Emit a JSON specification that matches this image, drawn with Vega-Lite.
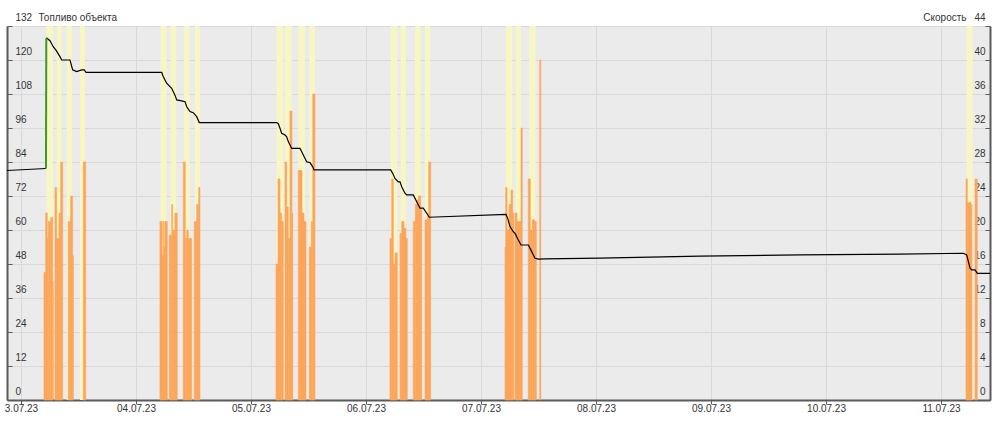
{
  "$schema": "https://vega.github.io/schema/vega-lite/v6.json",
  "width": 983,
  "height": 374,
  "autosize": {"type": "none"},
  "padding": {"left": 7, "top": 26, "right": 6, "bottom": 39},
  "background": "#ffffff",
  "config": {
    "view": {"fill": "#ebebeb", "stroke": null},
    "font": "Liberation Sans",
    "axis": {
      "labelFont": "Liberation Sans", "labelFontSize": 10, "labelColor": "#333333",
      "titleFont": "Liberation Sans", "titleFontSize": 10, "titleFontWeight": "normal", "titleColor": "#333333",
      "gridColor": "#d9d9d9", "gridWidth": 1, "domainColor": "#5a5a5a", "tickColor": "#5a5a5a", "domainWidth": 2
    }
  },
  "datasets": {
    "refuel": [
      {"t": "2023-07-03T05:13Z", "v": 81.7},
      {"t": "2023-07-03T05:17Z", "v": 127.8}
    ],
    "fuel": [
      {"t": "2023-07-02T21:05Z", "v": 81.0, "part": "a"},
      {"t": "2023-07-03T05:13Z", "v": 81.7, "part": "a"},
      {"t": "2023-07-03T05:17Z", "v": 127.8, "part": "b"},
      {"t": "2023-07-03T05:26Z", "v": 127.7, "part": "b"},
      {"t": "2023-07-03T06:03Z", "v": 126.8, "part": "b"},
      {"t": "2023-07-03T06:44Z", "v": 124.7, "part": "b"},
      {"t": "2023-07-03T07:18Z", "v": 123.5, "part": "b"},
      {"t": "2023-07-03T08:08Z", "v": 121.2, "part": "b"},
      {"t": "2023-07-03T08:30Z", "v": 120.0, "part": "b"},
      {"t": "2023-07-03T10:14Z", "v": 120.0, "part": "b"},
      {"t": "2023-07-03T10:47Z", "v": 116.5, "part": "b"},
      {"t": "2023-07-03T11:37Z", "v": 115.9, "part": "b"},
      {"t": "2023-07-03T12:40Z", "v": 116.5, "part": "b"},
      {"t": "2023-07-03T13:13Z", "v": 116.5, "part": "b"},
      {"t": "2023-07-03T13:34Z", "v": 115.6, "part": "b"},
      {"t": "2023-07-04T05:22Z", "v": 115.6, "part": "b"},
      {"t": "2023-07-04T05:42Z", "v": 114.1, "part": "b"},
      {"t": "2023-07-04T06:24Z", "v": 111.8, "part": "b"},
      {"t": "2023-07-04T07:06Z", "v": 110.6, "part": "b"},
      {"t": "2023-07-04T07:27Z", "v": 110.0, "part": "b"},
      {"t": "2023-07-04T08:08Z", "v": 107.6, "part": "b"},
      {"t": "2023-07-04T08:30Z", "v": 105.9, "part": "b"},
      {"t": "2023-07-04T09:32Z", "v": 105.6, "part": "b"},
      {"t": "2023-07-04T10:14Z", "v": 105.3, "part": "b"},
      {"t": "2023-07-04T10:35Z", "v": 103.5, "part": "b"},
      {"t": "2023-07-04T11:16Z", "v": 101.8, "part": "b"},
      {"t": "2023-07-04T11:57Z", "v": 101.4, "part": "b"},
      {"t": "2023-07-04T12:40Z", "v": 100.0, "part": "b"},
      {"t": "2023-07-04T13:13Z", "v": 97.9, "part": "b"},
      {"t": "2023-07-05T05:22Z", "v": 97.9, "part": "b"},
      {"t": "2023-07-05T05:42Z", "v": 97.5, "part": "b"},
      {"t": "2023-07-05T06:03Z", "v": 95.9, "part": "b"},
      {"t": "2023-07-05T06:24Z", "v": 94.1, "part": "b"},
      {"t": "2023-07-05T07:06Z", "v": 93.5, "part": "b"},
      {"t": "2023-07-05T07:27Z", "v": 92.9, "part": "b"},
      {"t": "2023-07-05T07:47Z", "v": 91.2, "part": "b"},
      {"t": "2023-07-05T08:30Z", "v": 88.8, "part": "b"},
      {"t": "2023-07-05T10:14Z", "v": 88.8, "part": "b"},
      {"t": "2023-07-05T10:35Z", "v": 87.6, "part": "b"},
      {"t": "2023-07-05T10:55Z", "v": 86.5, "part": "b"},
      {"t": "2023-07-05T11:37Z", "v": 84.1, "part": "b"},
      {"t": "2023-07-05T12:19Z", "v": 83.8, "part": "b"},
      {"t": "2023-07-05T12:53Z", "v": 82.3, "part": "b"},
      {"t": "2023-07-05T13:09Z", "v": 81.2, "part": "b"},
      {"t": "2023-07-06T05:09Z", "v": 81.2, "part": "b"},
      {"t": "2023-07-06T05:34Z", "v": 80.0, "part": "b"},
      {"t": "2023-07-06T06:03Z", "v": 78.2, "part": "b"},
      {"t": "2023-07-06T06:44Z", "v": 77.0, "part": "b"},
      {"t": "2023-07-06T07:06Z", "v": 77.0, "part": "b"},
      {"t": "2023-07-06T07:27Z", "v": 75.3, "part": "b"},
      {"t": "2023-07-06T08:08Z", "v": 73.0, "part": "b"},
      {"t": "2023-07-06T08:30Z", "v": 72.4, "part": "b"},
      {"t": "2023-07-06T09:52Z", "v": 72.4, "part": "b"},
      {"t": "2023-07-06T10:35Z", "v": 70.0, "part": "b"},
      {"t": "2023-07-06T11:16Z", "v": 67.7, "part": "b"},
      {"t": "2023-07-06T11:57Z", "v": 67.7, "part": "b"},
      {"t": "2023-07-06T12:40Z", "v": 65.9, "part": "b"},
      {"t": "2023-07-06T13:13Z", "v": 64.5, "part": "b"},
      {"t": "2023-07-07T05:13Z", "v": 65.5, "part": "b"},
      {"t": "2023-07-07T05:34Z", "v": 64.1, "part": "b"},
      {"t": "2023-07-07T06:03Z", "v": 61.2, "part": "b"},
      {"t": "2023-07-07T06:44Z", "v": 59.4, "part": "b"},
      {"t": "2023-07-07T07:06Z", "v": 58.8, "part": "b"},
      {"t": "2023-07-07T07:47Z", "v": 56.5, "part": "b"},
      {"t": "2023-07-07T08:21Z", "v": 54.7, "part": "b"},
      {"t": "2023-07-07T09:52Z", "v": 54.7, "part": "b"},
      {"t": "2023-07-07T10:26Z", "v": 52.9, "part": "b"},
      {"t": "2023-07-07T10:55Z", "v": 51.2, "part": "b"},
      {"t": "2023-07-07T11:16Z", "v": 50.0, "part": "b"},
      {"t": "2023-07-07T11:58Z", "v": 49.7, "part": "b"},
      {"t": "2023-07-07T13:21Z", "v": 49.8, "part": "b"},
      {"t": "2023-07-08T00:50Z", "v": 50.1, "part": "b"},
      {"t": "2023-07-08T21:42Z", "v": 50.8, "part": "b"},
      {"t": "2023-07-09T18:34Z", "v": 51.2, "part": "b"},
      {"t": "2023-07-10T15:27Z", "v": 51.5, "part": "b"},
      {"t": "2023-07-11T04:39Z", "v": 51.8, "part": "b"},
      {"t": "2023-07-11T05:22Z", "v": 51.2, "part": "b"},
      {"t": "2023-07-11T05:42Z", "v": 48.8, "part": "b"},
      {"t": "2023-07-11T06:03Z", "v": 46.5, "part": "b"},
      {"t": "2023-07-11T06:24Z", "v": 45.9, "part": "b"},
      {"t": "2023-07-11T07:06Z", "v": 45.9, "part": "b"},
      {"t": "2023-07-11T07:34Z", "v": 44.7, "part": "b"},
      {"t": "2023-07-11T10:13Z", "v": 44.7, "part": "b"}
    ],
    "moving": [
      {"t": "2023-07-03T05:19Z", "e": "2023-07-03T06:41Z"},
      {"t": "2023-07-03T07:27Z", "e": "2023-07-03T08:30Z"},
      {"t": "2023-07-03T09:32Z", "e": "2023-07-03T10:39Z"},
      {"t": "2023-07-03T12:19Z", "e": "2023-07-03T13:21Z"},
      {"t": "2023-07-04T05:07Z", "e": "2023-07-04T06:24Z"},
      {"t": "2023-07-04T07:12Z", "e": "2023-07-04T08:25Z"},
      {"t": "2023-07-04T10:01Z", "e": "2023-07-04T11:12Z"},
      {"t": "2023-07-04T12:19Z", "e": "2023-07-04T13:21Z"},
      {"t": "2023-07-05T05:22Z", "e": "2023-07-05T06:44Z"},
      {"t": "2023-07-05T07:06Z", "e": "2023-07-05T08:30Z"},
      {"t": "2023-07-05T09:52Z", "e": "2023-07-05T11:16Z"},
      {"t": "2023-07-05T12:10Z", "e": "2023-07-05T13:21Z"},
      {"t": "2023-07-06T05:09Z", "e": "2023-07-06T06:32Z"},
      {"t": "2023-07-06T07:14Z", "e": "2023-07-06T08:21Z"},
      {"t": "2023-07-06T10:13Z", "e": "2023-07-06T11:25Z"},
      {"t": "2023-07-06T12:19Z", "e": "2023-07-06T13:21Z"},
      {"t": "2023-07-07T05:09Z", "e": "2023-07-07T06:32Z"},
      {"t": "2023-07-07T07:14Z", "e": "2023-07-07T08:21Z"},
      {"t": "2023-07-07T10:05Z", "e": "2023-07-07T11:25Z"},
      {"t": "2023-07-11T05:22Z", "e": "2023-07-11T06:37Z"}
    ],
    "speed": [
      {"t": "2023-07-03T04:48Z", "e": "2023-07-03T05:09Z", "s": 15},
      {"t": "2023-07-03T05:09Z", "e": "2023-07-03T05:29Z", "s": 22},
      {"t": "2023-07-03T05:29Z", "e": "2023-07-03T05:42Z", "s": 19},
      {"t": "2023-07-03T05:42Z", "e": "2023-07-03T06:12Z", "s": 21},
      {"t": "2023-07-03T06:12Z", "e": "2023-07-03T06:37Z", "s": 21.5},
      {"t": "2023-07-03T06:37Z", "e": "2023-07-03T06:44Z", "s": 14},
      {"t": "2023-07-03T07:06Z", "e": "2023-07-03T07:27Z", "s": 25},
      {"t": "2023-07-03T07:27Z", "e": "2023-07-03T07:56Z", "s": 19},
      {"t": "2023-07-03T07:56Z", "e": "2023-07-03T08:17Z", "s": 22},
      {"t": "2023-07-03T08:17Z", "e": "2023-07-03T08:42Z", "s": 28},
      {"t": "2023-07-03T09:52Z", "e": "2023-07-03T10:22Z", "s": 21},
      {"t": "2023-07-03T10:22Z", "e": "2023-07-03T10:47Z", "s": 24},
      {"t": "2023-07-03T10:47Z", "e": "2023-07-03T10:55Z", "s": 17},
      {"t": "2023-07-03T13:00Z", "e": "2023-07-03T13:30Z", "s": 28},
      {"t": "2023-07-04T05:00Z", "e": "2023-07-04T05:29Z", "s": 21},
      {"t": "2023-07-04T05:29Z", "e": "2023-07-04T05:45Z", "s": 17},
      {"t": "2023-07-04T05:45Z", "e": "2023-07-04T05:52Z", "s": 21},
      {"t": "2023-07-04T05:52Z", "e": "2023-07-04T06:03Z", "s": 18},
      {"t": "2023-07-04T06:03Z", "e": "2023-07-04T06:32Z", "s": 21},
      {"t": "2023-07-04T06:57Z", "e": "2023-07-04T07:27Z", "s": 19.4},
      {"t": "2023-07-04T07:27Z", "e": "2023-07-04T07:39Z", "s": 23},
      {"t": "2023-07-04T07:39Z", "e": "2023-07-04T08:08Z", "s": 20},
      {"t": "2023-07-04T08:08Z", "e": "2023-07-04T08:37Z", "s": 22},
      {"t": "2023-07-04T09:52Z", "e": "2023-07-04T10:17Z", "s": 28},
      {"t": "2023-07-04T10:17Z", "e": "2023-07-04T10:35Z", "s": 19},
      {"t": "2023-07-04T10:35Z", "e": "2023-07-04T10:55Z", "s": 20},
      {"t": "2023-07-04T10:55Z", "e": "2023-07-04T11:37Z", "s": 19},
      {"t": "2023-07-04T12:10Z", "e": "2023-07-04T12:40Z", "s": 21},
      {"t": "2023-07-04T12:40Z", "e": "2023-07-04T13:05Z", "s": 23},
      {"t": "2023-07-04T13:05Z", "e": "2023-07-04T13:21Z", "s": 25},
      {"t": "2023-07-05T05:13Z", "e": "2023-07-05T05:38Z", "s": 16},
      {"t": "2023-07-05T05:38Z", "e": "2023-07-05T06:03Z", "s": 26},
      {"t": "2023-07-05T06:03Z", "e": "2023-07-05T06:24Z", "s": 22},
      {"t": "2023-07-05T06:24Z", "e": "2023-07-05T06:44Z", "s": 21},
      {"t": "2023-07-05T07:06Z", "e": "2023-07-05T07:27Z", "s": 28},
      {"t": "2023-07-05T07:27Z", "e": "2023-07-05T07:47Z", "s": 22.7},
      {"t": "2023-07-05T07:47Z", "e": "2023-07-05T08:08Z", "s": 19},
      {"t": "2023-07-05T08:08Z", "e": "2023-07-05T08:33Z", "s": 34},
      {"t": "2023-07-05T08:33Z", "e": "2023-07-05T08:42Z", "s": 22},
      {"t": "2023-07-05T09:52Z", "e": "2023-07-05T10:14Z", "s": 27},
      {"t": "2023-07-05T10:14Z", "e": "2023-07-05T10:39Z", "s": 27},
      {"t": "2023-07-05T10:39Z", "e": "2023-07-05T11:04Z", "s": 22},
      {"t": "2023-07-05T11:04Z", "e": "2023-07-05T11:29Z", "s": 21},
      {"t": "2023-07-05T12:10Z", "e": "2023-07-05T12:35Z", "s": 18},
      {"t": "2023-07-05T12:35Z", "e": "2023-07-05T12:53Z", "s": 21},
      {"t": "2023-07-05T12:53Z", "e": "2023-07-05T13:21Z", "s": 36},
      {"t": "2023-07-06T05:00Z", "e": "2023-07-06T05:22Z", "s": 19},
      {"t": "2023-07-06T05:22Z", "e": "2023-07-06T05:42Z", "s": 26},
      {"t": "2023-07-06T05:42Z", "e": "2023-07-06T06:03Z", "s": 16},
      {"t": "2023-07-06T06:03Z", "e": "2023-07-06T06:32Z", "s": 17.3},
      {"t": "2023-07-06T07:06Z", "e": "2023-07-06T07:27Z", "s": 19.6},
      {"t": "2023-07-06T07:27Z", "e": "2023-07-06T07:56Z", "s": 21},
      {"t": "2023-07-06T07:56Z", "e": "2023-07-06T08:21Z", "s": 20.2},
      {"t": "2023-07-06T08:21Z", "e": "2023-07-06T08:37Z", "s": 19},
      {"t": "2023-07-06T09:52Z", "e": "2023-07-06T10:17Z", "s": 21},
      {"t": "2023-07-06T10:17Z", "e": "2023-07-06T10:35Z", "s": 23},
      {"t": "2023-07-06T10:35Z", "e": "2023-07-06T10:55Z", "s": 23.5},
      {"t": "2023-07-06T10:55Z", "e": "2023-07-06T11:25Z", "s": 24},
      {"t": "2023-07-06T11:25Z", "e": "2023-07-06T11:37Z", "s": 22.4},
      {"t": "2023-07-06T12:19Z", "e": "2023-07-06T12:48Z", "s": 21.2},
      {"t": "2023-07-06T12:48Z", "e": "2023-07-06T13:05Z", "s": 22},
      {"t": "2023-07-06T13:05Z", "e": "2023-07-06T13:30Z", "s": 28},
      {"t": "2023-07-07T05:00Z", "e": "2023-07-07T05:09Z", "s": 18},
      {"t": "2023-07-07T05:09Z", "e": "2023-07-07T05:26Z", "s": 25},
      {"t": "2023-07-07T05:26Z", "e": "2023-07-07T05:51Z", "s": 20},
      {"t": "2023-07-07T05:51Z", "e": "2023-07-07T06:16Z", "s": 23},
      {"t": "2023-07-07T06:16Z", "e": "2023-07-07T06:37Z", "s": 24.7},
      {"t": "2023-07-07T06:37Z", "e": "2023-07-07T06:50Z", "s": 22},
      {"t": "2023-07-07T07:06Z", "e": "2023-07-07T07:31Z", "s": 22},
      {"t": "2023-07-07T07:31Z", "e": "2023-07-07T07:56Z", "s": 21},
      {"t": "2023-07-07T07:56Z", "e": "2023-07-07T08:21Z", "s": 21},
      {"t": "2023-07-07T08:21Z", "e": "2023-07-07T08:37Z", "s": 32},
      {"t": "2023-07-07T09:52Z", "e": "2023-07-07T10:17Z", "s": 26},
      {"t": "2023-07-07T10:17Z", "e": "2023-07-07T10:42Z", "s": 20},
      {"t": "2023-07-07T10:42Z", "e": "2023-07-07T11:08Z", "s": 21.2},
      {"t": "2023-07-07T11:08Z", "e": "2023-07-07T11:33Z", "s": 21},
      {"t": "2023-07-07T12:15Z", "e": "2023-07-07T12:28Z", "s": 40},
      {"t": "2023-07-11T05:13Z", "e": "2023-07-11T05:29Z", "s": 26},
      {"t": "2023-07-11T05:29Z", "e": "2023-07-11T06:03Z", "s": 23.2},
      {"t": "2023-07-11T06:03Z", "e": "2023-07-11T06:12Z", "s": 23.3},
      {"t": "2023-07-11T06:12Z", "e": "2023-07-11T06:20Z", "s": 19},
      {"t": "2023-07-11T06:20Z", "e": "2023-07-11T06:28Z", "s": 23},
      {"t": "2023-07-11T07:06Z", "e": "2023-07-11T07:34Z", "s": 26}
    ]
  },
  "encoding": {
    "x": {
      "field": "t",
      "type": "temporal",
      "scale": {
        "type": "utc",
        "domain": [
          {"year": 2023, "month": 7, "date": 2, "hours": 21, "minutes": 5, "utc": true},
          {"year": 2023, "month": 7, "date": 11, "hours": 10, "minutes": 13, "utc": true}
        ]
      },
      "axis": {
        "title": null,
        "values": [
          {"year": 2023, "month": 7, "date": 3, "utc": true},
          {"year": 2023, "month": 7, "date": 4, "utc": true},
          {"year": 2023, "month": 7, "date": 5, "utc": true},
          {"year": 2023, "month": 7, "date": 6, "utc": true},
          {"year": 2023, "month": 7, "date": 7, "utc": true},
          {"year": 2023, "month": 7, "date": 8, "utc": true},
          {"year": 2023, "month": 7, "date": 9, "utc": true},
          {"year": 2023, "month": 7, "date": 10, "utc": true},
          {"year": 2023, "month": 7, "date": 11, "utc": true}
        ],
        "labelExpr": "utcdate(datum.value) == 3 ? '3.07.23' : utcFormat(datum.value, '%d.%m.%y')",
        "tickSize": 4,
        "labelPadding": -1,
        "grid": true,
        "labelFlush": false,
        "labelOverlap": false
      }
    }
  },
  "layer": [
    {
      "data": {"name": "moving"},
      "mark": {"type": "rect", "color": "#f8f6c2"},
      "encoding": {"x2": {"field": "e"}}
    },
    {
      "data": {"name": "speed"},
      "mark": {"type": "rect", "color": "#fba65a", "stroke": "#fba65a", "strokeWidth": 0.6},
      "encoding": {
        "x2": {"field": "e"},
        "y": {
          "field": "s",
          "type": "quantitative",
          "scale": {"domain": [0, 44], "nice": false},
          "axis": {
            "orient": "right",
            "values": [0, 4, 8, 12, 16, 20, 24, 28, 32, 36, 40, 44],
            "title": "Скорость",
            "titleAngle": 0,
            "titleAlign": "right",
            "titleBaseline": "middle",
            "titleX": -24,
            "titleY": -9,
            "grid": false,
            "tickSize": -5,
            "labelPadding": 0,
            "labelAlign": "right",
            "labelBaseline": "middle",
            "labelOffset": -9,
            "labelOverlap": false
          }
        },
        "y2": {"datum": 0}
      }
    },
    {
      "encoding": {
        "y": {
          "field": "v",
          "type": "quantitative",
          "scale": {"domain": [0, 132], "nice": false},
          "axis": {
            "orient": "left",
            "values": [0, 12, 24, 36, 48, 60, 72, 84, 96, 108, 120, 132],
            "title": "Топливо объекта",
            "titleAngle": 0,
            "titleAlign": "left",
            "titleBaseline": "middle",
            "titleX": 31,
            "titleY": -9,
            "grid": true,
            "tickSize": -5,
            "labelPadding": -3,
            "labelAlign": "left",
            "labelBaseline": "middle",
            "labelOffset": -9,
            "labelOverlap": false
          }
        }
      },
      "layer": [
        {
          "data": {"name": "fuel"},
          "mark": {"type": "line", "color": "#000000", "strokeWidth": 1.2},
          "encoding": {
            "detail": {"field": "part", "type": "nominal"}
          }
        },
        {
          "data": {"name": "refuel"},
          "mark": {"type": "line", "color": "#3a9a2a", "strokeWidth": 2},
          "encoding": {}
        }
      ]
    }
  ],
  "resolve": {"scale": {"y": "independent"}}
}
